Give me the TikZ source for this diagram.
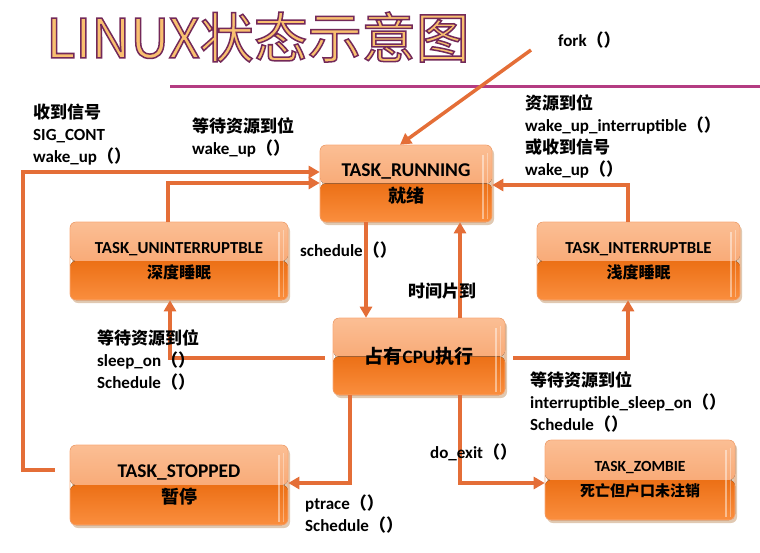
\documentclass[tikz,border=0pt]{standalone}
\usepackage{fontspec}
\setmainfont{Carlito}
\newfontfamily\cjk{Noto Sans CJK SC}
\usetikzlibrary{arrows.meta,shadows}
\definecolor{arrc}{RGB}{228,110,55}
\definecolor{boxtop}{RGB}{251,190,148}
\definecolor{boxmidu}{RGB}{246,152,92}
\definecolor{boxmidl}{RGB}{236,112,22}
\definecolor{boxbot}{RGB}{250,142,62}
\definecolor{boxedge}{RGB}{250,170,120}
\definecolor{titlefill}{RGB}{249,192,112}
\definecolor{rulec}{RGB}{180,60,130}
\newcommand\kuohao{{\cjk\bfseries （）}}
\newcommand\titletxt{LINUX状态示意图}
\tikzset{
  box/.style={rounded corners=6pt, inner sep=0pt, align=center, draw=boxedge, line width=0.6pt,
    drop shadow={shadow xshift=2pt, shadow yshift=-3pt, opacity=0.3, fill=orange!60!black},
    path picture={
      \fill[top color=boxtop, bottom color=boxmidu] (path picture bounding box.north west) rectangle (path picture bounding box.east);
      \fill[top color=boxmidl, bottom color=boxbot] (path picture bounding box.west) rectangle (path picture bounding box.south east);
      \draw[white, opacity=0.45, line width=1.2pt] ([xshift=-9pt,yshift=-10pt]path picture bounding box.north east) -- ([xshift=-9pt,yshift=3pt]path picture bounding box.south east);
      \draw[white, opacity=0.35, line width=1pt] ([xshift=-5pt,yshift=-8pt]path picture bounding box.north east) -- ([xshift=-5pt,yshift=3pt]path picture bounding box.south east);
    }},
  arr/.style={draw=arrc, line width=3.5pt, -{Triangle[length=11pt,width=12pt]}},
  lab/.style={inner sep=0pt, anchor=west, align=left, font=\fontsize{17}{22}\selectfont\bfseries},
  titlestyle/.style={inner sep=0pt, anchor=west, font=\cjk\fontsize{54}{58}\selectfont},
}
\begin{document}
\begin{tikzpicture}[x=1pt,y=-1pt]
\useasboundingbox (0,0) rectangle (760,552);
\coordinate (rulea) at (170,86);
\coordinate (ruleb) at (760,86);
\draw[rulec, line width=3pt] (rulea) -- (ruleb);

% boxes
\node[box, minimum width=172pt, minimum height=77pt, font=\fontsize{19.5}{26}\selectfont] (run) at (406,183.5)
  {\bfseries TASK\_RUNNING\\{\cjk\bfseries\fontsize{18}{22}\selectfont 就绪}};
\node[box, minimum width=218pt, minimum height=78pt, font=\fontsize{16.8}{25}\selectfont] (unint) at (179,261)
  {\bfseries TASK\_UNINTERRUPTBLE\\{\cjk\bfseries\fontsize{16}{22}\selectfont 深度睡眠}};
\node[box, minimum width=203pt, minimum height=78pt, font=\fontsize{16.8}{25}\selectfont] (int) at (638.5,261)
  {\bfseries TASK\_INTERRUPTBLE\\{\cjk\bfseries\fontsize{16}{22}\selectfont 浅度睡眠}};
\node[box, minimum width=172pt, minimum height=77pt, font=\fontsize{19}{24}\selectfont] (cpu) at (419,356.5)
  {\bfseries{\cjk 占有}CPU{\cjk 执行}};
\node[box, minimum width=218pt, minimum height=80pt, font=\fontsize{19.4}{26}\selectfont] (stop) at (179,485)
  {\bfseries TASK\_STOPPED\\{\cjk\bfseries\fontsize{18}{22}\selectfont 暂停}};
\node[box, minimum width=190pt, minimum height=80pt, font=\fontsize{15.5}{25}\selectfont] (zomb) at (640,480)
  {\bfseries TASK\_ZOMBIE\\{\cjk\bfseries\fontsize{15}{20}\selectfont 死亡但户口未注销}};

% connectors
\coordinate (forkstart) at (531,50);
\draw[arr] (forkstart) -- ([xshift=-6pt]run.north);
\draw[arr] ([xshift=-15pt,yshift=15pt]stop.west) -- (23,470) -- (23,172) -- (run.west |- 0,172);
\draw[arr] (168,0 |- unint.north) -- (168,183) -- (run.west |- 0,183);
\draw[arr] (628,0 |- int.north) -- (628,185) -- (run.east |- 0,185);
\draw[arr] (366,0 |- run.south) -- (366,0 |- cpu.north);
\draw[arr] (460,0 |- cpu.north) -- (460,0 |- run.south);
\draw[arr] ([xshift=-8pt]cpu.west |- 0,358) -- (170,358) -- (170,0 |- unint.south);
\draw[arr] ([xshift=8pt]cpu.east |- 0,358) -- (628,358) -- (628,0 |- int.south);
\draw[arr] (350,0 |- cpu.south) -- (350,483) -- (stop.east |- 0,483);
\draw[arr] (460,0 |- cpu.south) -- (460,483) -- (zomb.west |- 0,483);

% labels
\node[lab] (lfork) at (558,40) {fork\kuohao};
\node[lab] (lsig) at (33,135) {{\cjk 收到信号}\\SIG\_CONT\\wake\_up\kuohao};
\node[lab] (lwait1) at (192,137) {{\cjk 等待资源到位}\\wake\_up\kuohao};
\node[lab] (lres) at (525,136) {{\cjk 资源到位}\\wake\_up\_interruptible\kuohao\\{\cjk 或收到信号}\\wake\_up\kuohao};
\node[lab] (lsched) at (300,250) {schedule\kuohao};
\node[lab] (ltime) at (408,291) {{\cjk 时间片到}};
\node[lab] (lsleep) at (97,360) {{\cjk 等待资源到位}\\sleep\_on\kuohao\\Schedule\kuohao};
\node[lab] (lisleep) at (530,402) {{\cjk 等待资源到位}\\interruptible\_sleep\_on\kuohao\\Schedule\kuohao};
\node[lab] (lexit) at (430,452) {do\_exit\kuohao};
\node[lab] (lptrace) at (305,514.5) {ptrace\kuohao\\Schedule\kuohao};

% title (fill + stroke text render mode)
\node[titlestyle] (title) at (46,37)
  {\textcolor{titlefill}{\special{pdf:literal direct 2 Tr 1.5 w 0.45 0.16 0.35 RG}\titletxt\special{pdf:literal direct 0 Tr 0.4 w}}};
\end{tikzpicture}
\end{document}
